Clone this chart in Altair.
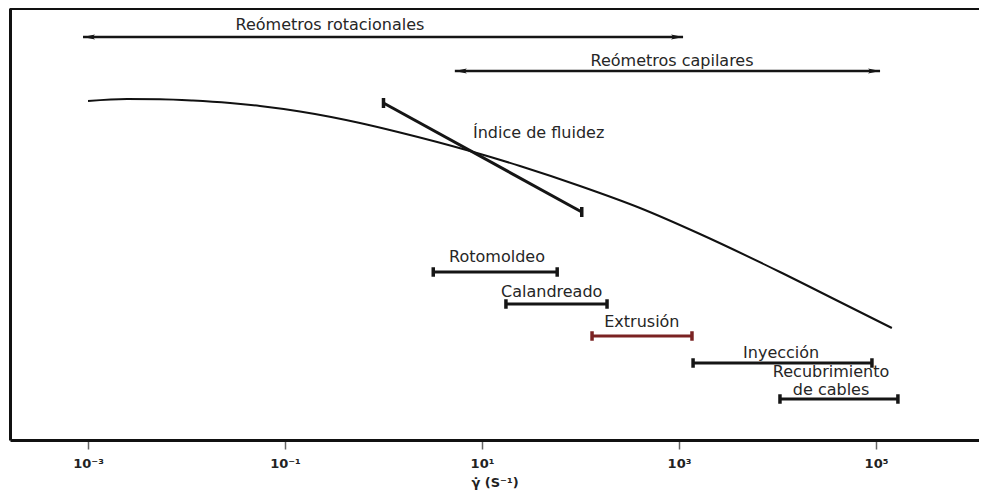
import altair as alt
import pandas as pd

# ---- data ----
# flow curve (shear rate in s^-1, vertical position in arbitrary units)
curve_x = [1.0e-3, 2.49e-3, 5.38e-3, 1.16e-2, 2.77e-2, 5.57e-2, 0.142, 0.577, 1.47,
           7.55, 24.3, 98.9, 402, 1633, 1.06e4, 4.31e4, 1.45e5]
curve_y = [339, 341, 340.8, 339.5, 337, 334, 328.5, 317, 307.5,
           289, 274, 254, 232, 206, 168, 138, 112]

# processing windows
proc_names = ["Rotomoldeo", "Calandreado", "Extrusión", "Inyección", "Recubrimiento de cables"]
proc_lo = [3.2, 17.5, 131, 1390, 1.06e4]
proc_hi = [58, 186, 1355, 9.1e4, 1.67e5]
proc_y = [168, 136, 104, 77, 41]
proc_color = ["#151515", "#151515", "#7a2222", "#151515", "#151515"]

# melt flow index segment
mfi_x = [1.0, 103]
mfi_y = [337, 228]

# rheometer ranges
rheo_names = ["Reómetros rotacionales", "Reómetros capilares"]
rheo_lo = [8.9e-4, 5.3]
rheo_hi = [1.1e3, 1.1e5]
rheo_y = [403, 369]

# text labels
label_text = ["Reómetros rotacionales", "Reómetros capilares", "Índice de fluidez",
              "Rotomoldeo", "Calandreado", "Extrusión", "Inyección",
              "Recubrimiento\nde cables"]
label_x = [0.286, 850, 8.1, 14.2, 51, 420, 1.09e4, 3.5e4]
label_y = [415, 379, 307, 183, 148, 118, 87, 68]
label_align = ["center", "center", "left", "center", "center", "center",
               "center", "center"]

tick_values = [1e-3, 1e-1, 1e1, 1e3, 1e5]

# ---- tables ----
curve_df = pd.DataFrame({"x": curve_x, "y": curve_y})
proc_df = pd.DataFrame({"name": proc_names, "lo": proc_lo, "hi": proc_hi,
                        "y": proc_y, "c": proc_color})
proc_caps = pd.DataFrame({"x": proc_lo + proc_hi, "y": proc_y + proc_y,
                          "c": proc_color + proc_color})
mfi_df = pd.DataFrame({"x": [mfi_x[0]], "x2": [mfi_x[1]],
                       "y": [mfi_y[0]], "y2": [mfi_y[1]]})
mfi_caps = pd.DataFrame({"x": mfi_x, "y": mfi_y})
rheo_df = pd.DataFrame({"name": rheo_names, "lo": rheo_lo, "hi": rheo_hi, "y": rheo_y})
label_df = pd.DataFrame({"t": label_text, "x": label_x, "y": label_y, "a": label_align})

W, H = 969, 432
xscale = alt.Scale(type="log", domain=[10 ** -3.792, 10 ** 6.046], nice=False)
yscale = alt.Scale(domain=[0, 432], nice=False, zero=False)

xaxis = alt.Axis(
    values=tick_values,
    labelExpr="'10' + ['⁻³','⁻²','⁻¹','⁰','¹','²','³','⁴','⁵'][round(log(datum.value)/LN10)+3]",
    domain=True, domainWidth=3, domainColor="#111",
    ticks=True, tickSize=9, tickWidth=1.5, tickColor="#666",
    labelFont="DejaVu Sans", labelFontSize=13, labelFontWeight="bold",
    labelColor="#222", labelPadding=8,
    title="γ̇ (S⁻¹)", titleFont="DejaVu Sans", titleFontSize=13,
    titleFontWeight="bold", titleColor="#222", titlePadding=6,
    grid=False,
)
yaxis = alt.Axis(domain=True, domainWidth=3, domainColor="#111", ticks=False,
                 labels=False, title=None, grid=False)


def X(f):
    return alt.X(f"{f}:Q", scale=xscale, axis=xaxis)


def Y(f):
    return alt.Y(f"{f}:Q", scale=yscale, axis=yaxis)


curve = alt.Chart(curve_df).mark_line(color="#111", strokeWidth=2, interpolate="monotone").encode(
    x=X("x"), y=Y("y"))

proc_bars = alt.Chart(proc_df).mark_rule(strokeWidth=3).encode(
    x=X("lo"), x2="hi", y=Y("y"), color=alt.Color("c:N", scale=None))

cap_shape = "M0,-1L0,1"
proc_cap = alt.Chart(proc_caps).mark_point(shape=cap_shape, size=90, strokeWidth=3.5,
                                           filled=False, opacity=1).encode(
    x=X("x"), y=Y("y"), color=alt.Color("c:N", scale=None))

mfi = alt.Chart(mfi_df).mark_rule(strokeWidth=3, color="#151515").encode(
    x=X("x"), x2="x2", y=Y("y"), y2="y2")
mfi_cap = alt.Chart(mfi_caps).mark_point(shape=cap_shape, size=100, strokeWidth=3.5,
                                         filled=False, opacity=1, color="#151515").encode(
    x=X("x"), y=Y("y"))

rheo = alt.Chart(rheo_df).mark_rule(strokeWidth=2.5, color="#151515").encode(
    x=X("lo"), x2="hi", y=Y("y"))
head_l = alt.Chart(rheo_df).mark_point(shape="M0,0L2,-0.42L1.6,0L2,0.42Z", size=144,
                                       filled=True, opacity=1, color="#151515").encode(
    x=X("lo"), y=Y("y"))
head_r = alt.Chart(rheo_df).mark_point(shape="M0,0L-2,-0.42L-1.6,0L-2,0.42Z", size=144,
                                       filled=True, opacity=1, color="#151515").encode(
    x=X("hi"), y=Y("y"))

text_style = dict(font="DejaVu Sans", fontSize=16, color="#262626", baseline="middle",
                  lineBreak="\n", lineHeight=18)
labels_c = alt.Chart(label_df).transform_filter("datum.a == 'center'").mark_text(
    align="center", **text_style).encode(x=X("x"), y=Y("y"), text="t:N")
labels_l = alt.Chart(label_df).transform_filter("datum.a == 'left'").mark_text(
    align="left", **text_style).encode(x=X("x"), y=Y("y"), text="t:N")

top_border = alt.Chart(curve_df).mark_rule(color="#111", strokeWidth=2.5).encode(
    x=alt.value(0), x2=alt.value(W), y=alt.value(0))

chart = alt.layer(
    top_border, curve, rheo, head_l, head_r, mfi, mfi_cap, proc_bars, proc_cap,
    labels_c, labels_l
).properties(
    width=W, height=H, autosize="none",
    padding={"left": 2, "top": 0, "right": 0, "bottom": 53},
).configure_view(stroke=None).configure(background="white")

chart.save("out.html", embed_options={"renderer": "svg", "actions": False})
